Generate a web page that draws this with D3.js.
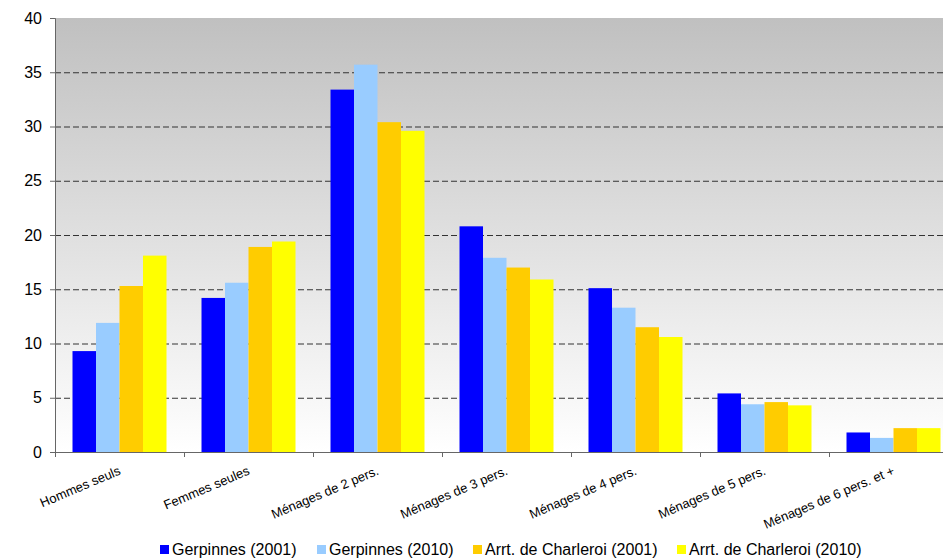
<!DOCTYPE html>
<html>
<head>
<meta charset="utf-8">
<script src="https://cdn.jsdelivr.net/npm/d3@7"></script>
<style>
  body { margin: 0; background: #fff; }
  svg { display: block; font-family: "Liberation Sans", Arial, sans-serif; }
</style>
</head>
<body>
<div id="chart"></div>
<script>
let categories = ['Hommes seuls', 'Femmes seules', 'Ménages de 2 pers.', 'Ménages de 3 pers.',
    'Ménages de 4 pers.', 'Ménages de 5 pers.', 'Ménages de 6 pers. et +'];
let seriesNames = ['Gerpinnes (2001)', 'Gerpinnes (2010)', 'Arrt. de Charleroi (2001)', 'Arrt. de Charleroi (2010)'];
let gerpinnes2001 = [9.3, 14.2, 33.4, 20.8, 15.1, 5.4, 1.8];
let gerpinnes2010 = [11.9, 15.6, 35.7, 17.9, 13.3, 4.4, 1.3];
let charleroi2001 = [15.3, 18.9, 30.4, 17.0, 11.5, 4.6, 2.2];
let charleroi2010 = [18.1, 19.4, 29.6, 15.9, 10.6, 4.3, 2.2];
let yTicks = [0, 5, 10, 15, 20, 25, 30, 35, 40];
let colors = ['#0000ff', '#99ccff', '#ffcc00', '#ffff00'];

let seriesValues = [gerpinnes2001, gerpinnes2010, charleroi2001, charleroi2010];
let data = categories.map((c, i) => ({
    category: c,
    values: seriesValues.map((s, j) => ({ key: seriesNames[j], value: s[i] }))
}));

let svgWidth = 943, svgHeight = 558;
let plotLeft = 55, plotTop = 18, plotBottom = 452, plotRight = 958;

let svg = d3.select('#chart').append('svg')
    .attr('width', svgWidth)
    .attr('height', svgHeight);

let defs = svg.append('defs');
let grad = defs.append('linearGradient')
    .attr('id', 'bg')
    .attr('x1', 0).attr('y1', 0).attr('x2', 0).attr('y2', 1);
grad.append('stop').attr('offset', '0%').attr('stop-color', '#c0c0c0');
grad.append('stop').attr('offset', '100%').attr('stop-color', '#ffffff');

let x = d3.scaleBand()
    .domain(categories)
    .range([plotLeft, plotRight])
    .paddingInner(0)
    .paddingOuter(0);

let x1 = d3.scaleBand()
    .domain(seriesNames)
    .range([0, x.bandwidth()])
    .paddingInner(0)
    .paddingOuter(0.745);

let y = d3.scaleLinear()
    .domain([0, 40])
    .range([plotBottom, plotTop]);

svg.append('rect')
    .attr('x', plotLeft)
    .attr('y', plotTop)
    .attr('width', plotRight - plotLeft)
    .attr('height', plotBottom - plotTop)
    .attr('fill', 'url(#bg)');

// dashed gridlines
svg.append('g')
    .selectAll('line')
    .data(yTicks.filter(d => d > 0 && d < 40))
    .enter().append('line')
    .attr('x1', plotLeft)
    .attr('x2', plotRight)
    .attr('y1', d => y(d) + 0.5)
    .attr('y2', d => y(d) + 0.5)
    .attr('stroke', '#333')
    .attr('stroke-width', 1)
    .attr('stroke-dasharray', '6,3');

// bars
let groups = svg.append('g')
    .selectAll('g')
    .data(data)
    .enter().append('g')
    .attr('transform', d => 'translate(' + x(d.category) + ',0)');

groups.selectAll('rect')
    .data(d => d.values)
    .enter().append('rect')
    .attr('x', d => x1(d.key))
    .attr('width', x1.bandwidth())
    .attr('y', d => y(d.value))
    .attr('height', d => plotBottom - y(d.value))
    .attr('fill', (d, i) => colors[i]);

// y axis
let yAxis = svg.append('g')
    .attr('transform', 'translate(' + plotLeft + ',0)')
    .call(d3.axisLeft(y).tickValues(yTicks).tickSize(5).tickPadding(8));
yAxis.selectAll('text').style('font-size', '16px').attr('fill', '#000');
yAxis.selectAll('line, path').attr('stroke', '#666');

// x axis: ticks at band boundaries
let xAxis = svg.append('g')
    .attr('transform', 'translate(0,' + plotBottom + ')');
xAxis.append('line')
    .attr('x1', plotLeft).attr('x2', plotRight)
    .attr('y1', 0.5).attr('y2', 0.5)
    .attr('stroke', '#666');
xAxis.selectAll('.tick')
    .data(categories)
    .enter().append('line')
    .attr('class', 'tick')
    .attr('x1', d => x(d) + 0.5)
    .attr('x2', d => x(d) + 0.5)
    .attr('y1', 0)
    .attr('y2', 5)
    .attr('stroke', '#666');
xAxis.selectAll('text')
    .data(categories)
    .enter().append('text')
    .attr('transform', d => 'translate(' + (x(d) + x.bandwidth() / 2 + 2) + ',22) rotate(-23)')
    .attr('text-anchor', 'end')
    .style('font-size', '13px')
    .attr('fill', '#000')
    .text(d => d);

// legend
let legendX = [160, 317, 473, 677];
let legend = svg.append('g')
    .selectAll('g')
    .data(seriesNames)
    .enter().append('g')
    .attr('transform', (d, i) => 'translate(' + legendX[i] + ',545)');
legend.append('rect')
    .attr('width', 9)
    .attr('height', 9)
    .attr('fill', (d, i) => colors[i]);
legend.append('text')
    .attr('x', 12)
    .attr('y', 9.5)
    .style('font-size', '16px')
    .attr('fill', '#000')
    .text(d => d);
</script>
</body>
</html>
